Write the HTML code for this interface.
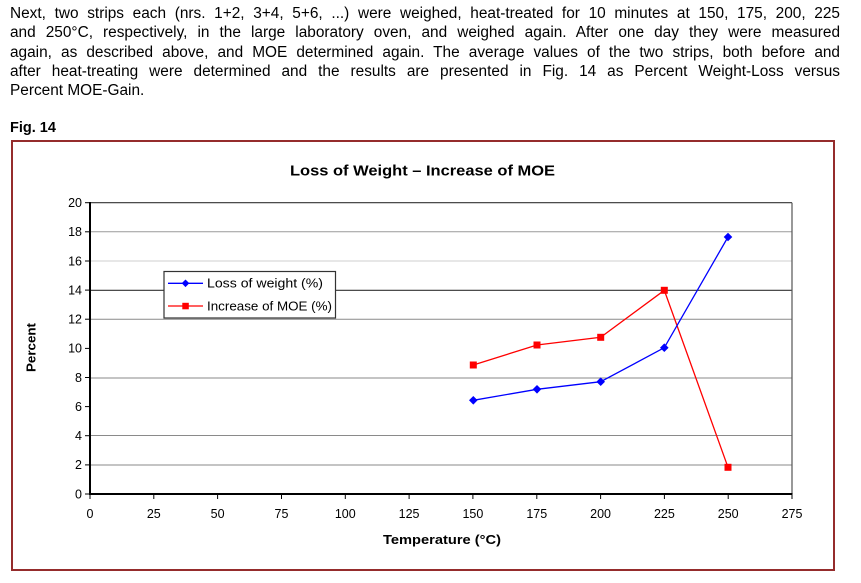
<!DOCTYPE html>
<html>
<head>
<meta charset="utf-8">
<style>
  html,body{margin:0;padding:0;background:#fff;}
  body{width:861px;height:583px;position:relative;overflow:hidden;font-family:"Liberation Sans",Arial,sans-serif;color:#000;}
  .ln{position:absolute;left:10px;width:830px;font-size:15.4px;line-height:19px;white-space:nowrap;}
  .j{text-align:justify;text-align-last:justify;white-space:normal;}
  .fig{position:absolute;left:10px;top:119.5px;font-size:14.5px;font-weight:bold;}
  .frame{position:absolute;left:11px;top:140px;width:820px;height:427px;border:2px solid #952c2c;}
  svg{position:absolute;left:0;top:0;}
</style>
</head>
<body>
<div class="ln j" style="top:4px;">Next, two strips each (nrs. 1+2, 3+4, 5+6, ...) were weighed, heat-treated for 10 minutes at 150, 175, 200, 225</div>
<div class="ln j" style="top:23.3px;">and 250°C, respectively, in the large laboratory oven, and weighed again. After one day they were measured</div>
<div class="ln j" style="top:42.5px;">again, as described above, and MOE determined again. The average values of the two strips, both before and</div>
<div class="ln j" style="top:61.8px;">after heat-treating were determined and the results are presented in Fig. 14 as Percent Weight-Loss versus</div>
<div class="ln" style="top:81px;">Percent MOE-Gain.</div>
<div class="fig">Fig. 14</div>
<div class="frame"></div>
<svg width="861" height="583" viewBox="0 0 861 583" xmlns="http://www.w3.org/2000/svg" font-family="Liberation Sans, Arial, sans-serif">
  <!-- title -->
  <text x="422.5" y="175.5" font-size="15" font-weight="bold" text-anchor="middle" textLength="265" lengthAdjust="spacingAndGlyphs">Loss of Weight – Increase of MOE</text>
  <!-- gridlines -->
  <line x1="90" y1="231.8" x2="792" y2="231.8" stroke="#9a9a9a" stroke-width="1"/>
  <line x1="90" y1="261" x2="792" y2="261" stroke="#cfcfcf" stroke-width="1"/>
  <line x1="90" y1="290.3" x2="792" y2="290.3" stroke="#333" stroke-width="1.2"/>
  <line x1="90" y1="319.3" x2="792" y2="319.3" stroke="#8a8a8a" stroke-width="1"/>
  <line x1="90" y1="378" x2="792" y2="378" stroke="#8a8a8a" stroke-width="1"/>
  <line x1="90" y1="435.5" x2="792" y2="435.5" stroke="#8a8a8a" stroke-width="1"/>
  <line x1="90" y1="465" x2="792" y2="465" stroke="#8a8a8a" stroke-width="1"/>
  <!-- plot border top/right -->
  <line x1="90" y1="202.7" x2="792" y2="202.7" stroke="#333" stroke-width="1.2"/>
  <line x1="792" y1="202.7" x2="792" y2="494" stroke="#555" stroke-width="1.2"/>
  <!-- axes -->
  <line x1="90" y1="202" x2="90" y2="495" stroke="#000" stroke-width="2"/>
  <line x1="89" y1="494" x2="792.5" y2="494" stroke="#000" stroke-width="2"/>
  <!-- y ticks -->
  <g stroke="#000" stroke-width="1">
    <line x1="85" y1="202.7" x2="90" y2="202.7"/>
    <line x1="85" y1="231.8" x2="90" y2="231.8"/>
    <line x1="85" y1="261" x2="90" y2="261"/>
    <line x1="85" y1="290.1" x2="90" y2="290.1"/>
    <line x1="85" y1="319.2" x2="90" y2="319.2"/>
    <line x1="85" y1="348.4" x2="90" y2="348.4"/>
    <line x1="85" y1="377.5" x2="90" y2="377.5"/>
    <line x1="85" y1="406.6" x2="90" y2="406.6"/>
    <line x1="85" y1="435.7" x2="90" y2="435.7"/>
    <line x1="85" y1="464.9" x2="90" y2="464.9"/>
    <line x1="85" y1="494" x2="90" y2="494"/>
  </g>
  <!-- x ticks -->
  <g stroke="#000" stroke-width="1">
    <line x1="90" y1="494" x2="90" y2="499"/>
    <line x1="153.8" y1="494" x2="153.8" y2="499"/>
    <line x1="217.6" y1="494" x2="217.6" y2="499"/>
    <line x1="281.5" y1="494" x2="281.5" y2="499"/>
    <line x1="345.3" y1="494" x2="345.3" y2="499"/>
    <line x1="409.1" y1="494" x2="409.1" y2="499"/>
    <line x1="472.9" y1="494" x2="472.9" y2="499"/>
    <line x1="536.8" y1="494" x2="536.8" y2="499"/>
    <line x1="600.6" y1="494" x2="600.6" y2="499"/>
    <line x1="664.4" y1="494" x2="664.4" y2="499"/>
    <line x1="728.2" y1="494" x2="728.2" y2="499"/>
    <line x1="792" y1="494" x2="792" y2="499"/>
  </g>
  <!-- y labels -->
  <g font-size="12.5" text-anchor="end">
    <text x="82" y="207">20</text>
    <text x="82" y="236">18</text>
    <text x="82" y="265.3">16</text>
    <text x="82" y="294.4">14</text>
    <text x="82" y="323.5">12</text>
    <text x="82" y="352.7">10</text>
    <text x="82" y="381.8">8</text>
    <text x="82" y="410.9">6</text>
    <text x="82" y="440">4</text>
    <text x="82" y="469.2">2</text>
    <text x="82" y="498.3">0</text>
  </g>
  <!-- x labels -->
  <g font-size="12.5" text-anchor="middle">
    <text x="90" y="518">0</text>
    <text x="153.8" y="518">25</text>
    <text x="217.6" y="518">50</text>
    <text x="281.5" y="518">75</text>
    <text x="345.3" y="518">100</text>
    <text x="409.1" y="518">125</text>
    <text x="472.9" y="518">150</text>
    <text x="536.8" y="518">175</text>
    <text x="600.6" y="518">200</text>
    <text x="664.4" y="518">225</text>
    <text x="728.2" y="518">250</text>
    <text x="792" y="518">275</text>
  </g>
  <!-- axis titles -->
  <text x="442" y="544" font-size="13" font-weight="bold" text-anchor="middle" textLength="118" lengthAdjust="spacingAndGlyphs">Temperature (°C)</text>
  <text transform="translate(35.5,347.5) rotate(-90)" font-size="13" font-weight="bold" text-anchor="middle" textLength="49" lengthAdjust="spacingAndGlyphs">Percent</text>
  <!-- series: increase of MOE (red) -->
  <polyline points="473.3,365 537,345 600.7,337.3 664.3,290.3 728,467.3" fill="none" stroke="#ff0000" stroke-width="1.3"/>
  <g fill="#ff0000">
    <rect x="469.8" y="361.5" width="7" height="7"/>
    <rect x="533.5" y="341.5" width="7" height="7"/>
    <rect x="597.2" y="333.8" width="7" height="7"/>
    <rect x="660.8" y="286.8" width="7" height="7"/>
    <rect x="724.5" y="463.8" width="7" height="7"/>
  </g>
  <!-- series: loss of weight (blue) -->
  <polyline points="473.3,400.3 537,389.3 600.7,381.7 664.3,347.7 728,237" fill="none" stroke="#0000ff" stroke-width="1.3"/>
  <g fill="#0000ff">
    <polygon points="473.3,396 477.6,400.3 473.3,404.6 469,400.3"/>
    <polygon points="537,385 541.3,389.3 537,393.6 532.7,389.3"/>
    <polygon points="600.7,377.4 605,381.7 600.7,386 596.4,381.7"/>
    <polygon points="664.3,343.4 668.6,347.7 664.3,352 660,347.7"/>
    <polygon points="728,232.7 732.3,237 728,241.3 723.7,237"/>
  </g>
  <!-- legend -->
  <rect x="164" y="271.5" width="171.5" height="46.5" fill="#fff" stroke="#333" stroke-width="1.2"/>
  <line x1="168" y1="283.3" x2="203" y2="283.3" stroke="#0000ff" stroke-width="1.3"/>
  <polygon points="185.5,279.5 189.3,283.3 185.5,287.1 181.7,283.3" fill="#0000ff"/>
  <line x1="168" y1="306" x2="203" y2="306" stroke="#ff0000" stroke-width="1.3"/>
  <rect x="182.3" y="302.8" width="6.5" height="6.5" fill="#ff0000"/>
  <text x="207" y="287.5" font-size="12.5" textLength="116" lengthAdjust="spacingAndGlyphs">Loss of weight (%)</text>
  <text x="207" y="310.5" font-size="12.5" textLength="125" lengthAdjust="spacingAndGlyphs">Increase of MOE (%)</text>
</svg>
</body>
</html>
